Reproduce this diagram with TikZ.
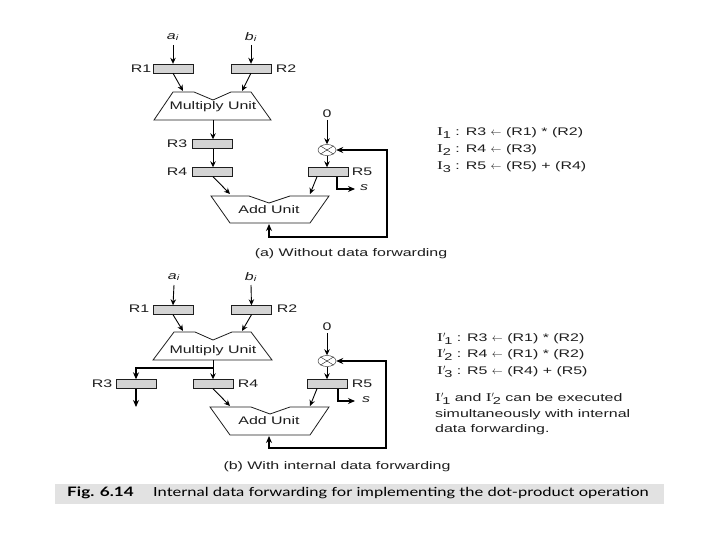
\documentclass[tikz,border=0pt]{standalone}
\usepackage{fontspec}
\setmainfont[FakeStretch=1.45]{Liberation Sans}
\newfontfamily\instfont[FakeStretch=1.45]{Liberation Serif}
\newfontfamily\capfont[FakeStretch=1.32]{Lato}
\usetikzlibrary{shapes.geometric, arrows.meta}
\definecolor{RegGray}{RGB}{212, 212, 212}
\definecolor{BandGray}{RGB}{226, 226, 226}
\definecolor{InkGray}{RGB}{30, 30, 30}
\newcommand{\subnum}[1]{\raisebox{-3pt}{\fontsize{10}{10}\selectfont #1}}
\newcommand{\instr}[1]{{\instfont\fontsize{12}{15}\selectfont I}\subnum{#1}}
\newcommand{\instp}[1]{{\instfont\fontsize{12}{15}\selectfont I}$'$\kern-1.5pt\subnum{#1}}

\begin{document}
\begin{tikzpicture}[
        x=1pt, y=-1pt,
        reg/.style={draw=InkGray, fill=RegGray, minimum width=40pt, minimum height=9pt, inner sep=0pt},
        lbl/.style={font=\fontsize{11}{13}\selectfont, text=InkGray, inner sep=0pt},
        txt/.style={font=\fontsize{11}{15.5}\selectfont, text=InkGray, inner sep=0pt, anchor=west},
        unit/.style={line width=0.8pt, InkGray},
        xnode/.style={draw=InkGray, ellipse, minimum width=18pt, minimum height=11pt, inner sep=0pt},
        arr/.style={-{Stealth[length=6pt, width=5.5pt]}, line width=0.9pt},
        harr/.style={-{Stealth[length=7pt, width=6pt]}, line width=1.3pt},
        fback/.style={{Stealth[length=7pt, width=6pt]}-{Stealth[length=7pt, width=6pt]}, line width=1.2pt}
    ]
        \useasboundingbox (0, 0) rectangle (720, 540);
        \fill[white] (0, 0) rectangle (720, 540);

        % (a) without forwarding
        \node[lbl] (ai) at (173, 37) {\textit{a}\textsubscript{\textit{i}}};
        \node[lbl] (bi) at (251, 37) {\textit{b}\textsubscript{\textit{i}}};
        \node[reg] (r1) at (173, 68.5) {};
        \node[reg] (r2) at (251, 68.5) {};
        \node[lbl] (r1l) at (141, 69) {R1};
        \node[lbl] (r2l) at (286, 69) {R2};
        \draw[unit] (154, 120) -- (173, 92) -- (194, 92) -- (213, 100) -- (231, 92) -- (251, 92) -- (271, 120) -- cycle;
        \node[lbl] (mul) at (213, 107) {Multiply Unit};
        \coordinate (mula) at (183, 91);
        \coordinate (mulb) at (242, 91);
        \coordinate (mulo) at (213, 120);
        \node[reg] (r3) at (212, 144) {};
        \node[reg] (r4) at (212, 172) {};
        \node[reg] (r5) at (328, 172) {};
        \node[lbl] (r3l) at (177, 144) {R3};
        \node[lbl] (r4l) at (177, 172) {R4};
        \node[lbl] (r5l) at (362, 172) {R5};
        \node[lbl] (zero) at (327, 114) {0};
        \node[xnode] (xor) at (327, 150) {};
        \draw[InkGray] (xor.north west) -- (xor.south east);
        \draw[InkGray] (xor.north east) -- (xor.south west);
        \draw[unit] (211, 196) -- (249, 196) -- (269, 203) -- (290, 196) -- (329, 196) -- (310, 223) -- (230, 223) -- cycle;
        \node[lbl] (add) at (269, 210) {Add Unit};
        \coordinate (addb) at (269, 224);
        \coordinate (adda) at (230, 194);
        \coordinate (addc) at (310, 194);
        \coordinate (fb1) at (387, 150);
        \coordinate (fb2) at (387, 237);
        \coordinate (sout) at (355, 189);
        \node[lbl] (s) at (364, 188) {\textit{s}};

        \draw[arr] (ai) ++(0, 8) -- (r1.north);
        \draw[arr] (bi) ++(0, 8) -- (r2.north);
        \draw[arr] (r1.south) -- (mula);
        \draw[arr] (r2.south) -- (mulb);
        \draw[arr] (mulo) -- (mulo |- r3.north);
        \draw[arr] (r3.south -| mulo) -- (r4.north -| mulo);
        \draw[arr] (r4.south -| mulo) -- (adda);
        \draw[arr] ([xshift=-11pt]r5.south) -- (addc);
        \draw[arr] (zero) ++(0, 6) -- (xor.north);
        \draw[arr] (xor.south) -- (xor.south |- r5.north);
        \draw[harr] ([xshift=9pt]r5.south) |- (sout);
        \draw[fback] (xor.east) -- (fb1) -- (fb2) -| (addb);

        \node[lbl] (capa) at (351, 254) {(a) Without data forwarding};
        \node[txt] (i1) at (437, 133) {\instr{1} : R3 $\leftarrow$ (R1) * (R2)};
        \node[txt] (i2) at (437, 150) {\instr{2} : R4 $\leftarrow$ (R3)};
        \node[txt] (i3) at (437, 167) {\instr{3} : R5 $\leftarrow$ (R5) + (R4)};

        % (b) with forwarding
        \node[lbl] (aib) at (174, 277) {\textit{a}\textsubscript{\textit{i}}};
        \node[lbl] (bib) at (251, 277) {\textit{b}\textsubscript{\textit{i}}};
        \node[reg] (r1b) at (173, 310) {};
        \node[reg] (r2b) at (251.5, 310) {};
        \node[lbl] (r1bl) at (139, 309) {R1};
        \node[lbl] (r2bl) at (287, 309) {R2};
        \draw[unit] (153, 360) -- (174, 332) -- (195, 332) -- (213, 340) -- (232, 332) -- (251, 332) -- (272, 360) -- cycle;
        \node[lbl] (mulb2) at (213, 351) {Multiply Unit};
        \coordinate (mulba) at (183, 331);
        \coordinate (mulbb) at (242, 331);
        \coordinate (mulbo) at (213, 360);
        \coordinate (split) at (213, 368);
        \node[reg] (r3b) at (136, 384) {};
        \node[reg] (r4b) at (213, 384) {};
        \node[reg] (r5b) at (327, 384) {};
        \node[lbl] (r3bl) at (102, 384) {R3};
        \node[lbl] (r4bl) at (248, 384) {R4};
        \node[lbl] (r5bl) at (362, 384) {R5};
        \coordinate (r3out) at (136, 407);
        \node[lbl] (zerob) at (327, 327) {0};
        \node[xnode] (xorb) at (327, 361) {};
        \draw[InkGray] (xorb.north west) -- (xorb.south east);
        \draw[InkGray] (xorb.north east) -- (xorb.south west);
        \draw[unit] (210, 407) -- (251, 407) -- (270, 414) -- (290, 407) -- (329, 407) -- (310, 435) -- (230, 435) -- cycle;
        \node[lbl] (addb2) at (269, 421) {Add Unit};
        \coordinate (addbb) at (269, 436);
        \coordinate (addba) at (230, 406);
        \coordinate (addbc) at (310, 406);
        \coordinate (fb3) at (386, 361);
        \coordinate (fb4) at (386, 448);
        \coordinate (soutb) at (355, 401);
        \node[lbl] (sb) at (366, 400) {\textit{s}};

        \draw[arr] (aib) ++(0, 8) -- (r1b.north);
        \draw[arr] (bib) ++(0, 8) -- (r2b.north);
        \draw[arr] (r1b.south) -- (mulba);
        \draw[arr] (r2b.south) -- (mulbb);
        \draw[arr] (mulbo) -- (r4b.north);
        \draw[harr] (split) -| (r3b.north);
        \draw[harr] (r3b.south) -- (r3out);
        \draw[arr] (r4b.south) -- (addba);
        \draw[arr] ([xshift=-10pt]r5b.south) -- (addbc);
        \draw[arr] (zerob) ++(0, 6) -- (xorb.north);
        \draw[arr] (xorb.south) -- (r5b.north);
        \draw[harr] ([xshift=11pt]r5b.south) |- (soutb);
        \draw[fback] (xorb.east) -- (fb3) -- (fb4) -| (addbb);

        \node[lbl] (capb) at (337, 467) {(b) With internal data forwarding};
        \node[txt] (j1) at (437, 339) {\instp{1} : R3 $\leftarrow$ (R1) * (R2)};
        \node[txt] (j2) at (437, 355) {\instp{2} : R4 $\leftarrow$ (R1) * (R2)};
        \node[txt] (j3) at (437, 372) {\instp{3} : R5 $\leftarrow$ (R4) + (R5)};
        \node[txt, align=left, anchor=north west] (note) at (435, 393)
            {\instp{1} and \instp{2} can be executed\\simultaneously with internal\\data forwarding.};

        % caption band
        \node[fill=BandGray, minimum width=609pt, minimum height=20pt, inner sep=0pt] (band) at (359.5, 494) {};
        \node[font=\capfont\fontsize{13}{14}\selectfont\bfseries, inner sep=0pt, anchor=west] (fig) at (67, 493) {Fig. 6.14};
        \node[font=\capfont\fontsize{12.5}{14}\selectfont, inner sep=0pt, anchor=west] (capt) at (153, 493) {Internal data forwarding for implementing the dot-product operation};
    \end{tikzpicture}
\end{document}
